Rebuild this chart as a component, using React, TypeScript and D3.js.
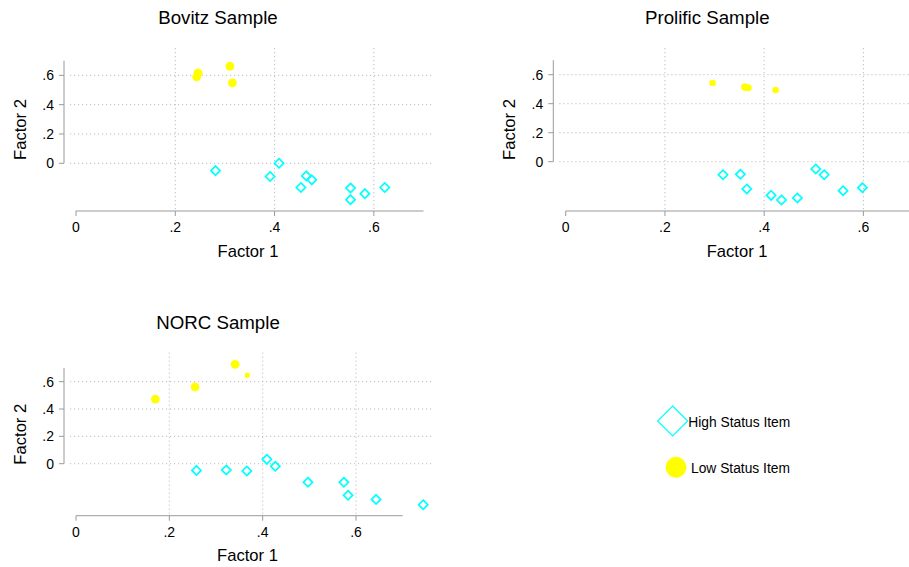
import React from "react";
import * as d3 from "d3";

// ---------- data ----------
const panelTitles = ["Bovitz Sample", "Prolific Sample", "NORC Sample"];
const xTicks = [0, 0.2, 0.4, 0.6];
const yTicks = [0, 0.2, 0.4, 0.6];
const tickLabels = ["0", ".2", ".4", ".6"];

const bovitzHighX = [0.281, 0.391, 0.409, 0.453, 0.464, 0.475, 0.553, 0.553, 0.582, 0.622];
const bovitzHighY = [-0.05, -0.09, 0.0, -0.165, -0.086, -0.113, -0.169, -0.248, -0.207, -0.165];
const bovitzLowX = [0.243, 0.246, 0.31, 0.315];
const bovitzLowY = [0.59, 0.617, 0.662, 0.549];
const bovitzLowW = [1, 1, 1, 1];

const prolificHighX = [0.317, 0.352, 0.365, 0.414, 0.435, 0.467, 0.504, 0.521, 0.559, 0.598];
const prolificHighY = [-0.09, -0.087, -0.188, -0.232, -0.264, -0.25, -0.05, -0.09, -0.2, -0.179];
const prolificLowX = [0.296, 0.361, 0.368, 0.423];
const prolificLowY = [0.543, 0.515, 0.51, 0.494];
const prolificLowW = [0.75, 0.85, 0.8, 0.75];

const norcHighX = [0.258, 0.322, 0.366, 0.409, 0.427, 0.497, 0.574, 0.583, 0.643, 0.744];
const norcHighY = [-0.049, -0.046, -0.053, 0.032, -0.019, -0.136, -0.136, -0.231, -0.261, -0.3];
const norcLowX = [0.17, 0.255, 0.341, 0.367];
const norcLowY = [0.473, 0.561, 0.727, 0.647];
const norcLowW = [1, 1, 1, 0.6];

const legendLabels = ["High Status Item", "Low Status Item"];

// ---------- layout ----------
const FONT = "'Liberation Sans', Arial, Helvetica, sans-serif";
const CYAN = "#00ffff";
const YELLOW = "#ffff00";
const AXIS = "#9a9a9a";
const GRID = "#bdbdbd";

type Layout = {
  left: number; right: number; top: number; bottom: number;
  x0: number; x07: number; y0: number; y07: number;
};

const layouts: Layout[] = [
  { left: 64, right: 433, top: 48, bottom: 211, x0: 76, x07: 423.5, y0: 163.3, y07: 60.7 },
  { left: 553.3, right: 922, top: 48, bottom: 211, x0: 565.7, x07: 913, y0: 161.7, y07: 60.2 },
  { left: 64, right: 432, top: 352.7, bottom: 515.7, x0: 76, x07: 402.7, y0: 463.7, y07: 368 },
];

const panelData = [
  { hx: bovitzHighX, hy: bovitzHighY, lx: bovitzLowX, ly: bovitzLowY, lw: bovitzLowW },
  { hx: prolificHighX, hy: prolificHighY, lx: prolificLowX, ly: prolificLowY, lw: prolificLowW },
  { hx: norcHighX, hy: norcHighY, lx: norcLowX, ly: norcLowY, lw: norcLowW },
];

function diamond(cx: number, cy: number, h: number) {
  return `M${cx},${cy - h}L${cx + h},${cy}L${cx},${cy + h}L${cx - h},${cy}Z`;
}

function Panel({ idx }: { idx: number }) {
  const L = layouts[idx];
  const D = panelData[idx];
  const x = d3.scaleLinear().domain([0, 0.7]).range([L.x0, L.x07]);
  const y = d3.scaleLinear().domain([0, 0.7]).range([L.y0, L.y07]);
  const r = d3.scaleLinear().domain([0, 1]).range([0, 4.4]);
  const gridLeft = L.left + 6;
  return (
    <g>
      {/* title */}
      <text x={L.left + 154} y={L.top - 24} textAnchor="middle" fontSize={18.7} fontFamily={FONT} fill="#000">
        {panelTitles[idx]}
      </text>
      {/* grid */}
      {yTicks.map((t) => (
        <line key={"gy" + t} x1={gridLeft} x2={L.right} y1={y(t)} y2={y(t)}
          stroke={GRID} strokeWidth={1} strokeDasharray="1.2 2.8" />
      ))}
      {xTicks.filter((t) => t > 0).map((t) => (
        <line key={"gx" + t} x1={x(t)} x2={x(t)} y1={L.top} y2={L.bottom}
          stroke={GRID} strokeWidth={1} strokeDasharray="1.2 2.8" />
      ))}
      {/* y axis */}
      <line x1={L.left} x2={L.left} y1={y(0.7)} y2={y(0)} stroke={AXIS} strokeWidth={1} />
      {yTicks.map((t, i) => (
        <g key={"yt" + t}>
          <line x1={L.left - 5} x2={L.left} y1={y(t)} y2={y(t)} stroke={AXIS} strokeWidth={1} />
          <text x={L.left - 10} y={y(t)} dy="0.36em" textAnchor="end" fontSize={14} fontFamily={FONT} fill="#000">
            {tickLabels[i]}
          </text>
        </g>
      ))}
      <text transform={`translate(${L.left - 44},${(L.top + L.bottom) / 2}) rotate(-90)`}
        textAnchor="middle" dy="0.36em" fontSize={16.6} fontFamily={FONT} fill="#000">Factor 2</text>
      {/* x axis */}
      <line x1={x(0)} x2={x(0.7)} y1={L.bottom} y2={L.bottom} stroke={AXIS} strokeWidth={1} />
      {xTicks.map((t, i) => (
        <g key={"xt" + t}>
          <line x1={x(t)} x2={x(t)} y1={L.bottom} y2={L.bottom + 5} stroke={AXIS} strokeWidth={1} />
          <text x={x(t)} y={L.bottom + 21} textAnchor="middle" fontSize={14} fontFamily={FONT} fill="#000">
            {tickLabels[i]}
          </text>
        </g>
      ))}
      <text x={(L.left + L.right) / 2 - 0.5} y={L.bottom + 45.5} textAnchor="middle" fontSize={16.6}
        fontFamily={FONT} fill="#000">Factor 1</text>
      {/* low status */}
      {D.lx.map((v, i) => (
        <circle key={"l" + i} cx={x(v)} cy={y(D.ly[i])} r={r(D.lw[i])} fill={YELLOW} />
      ))}
      {/* high status */}
      {D.hx.map((v, i) => (
        <path key={"h" + i} d={diamond(x(v), y(D.hy[i]), 4.6)} fill="none" stroke={CYAN} strokeWidth={1.7} />
      ))}
    </g>
  );
}

export default function App() {
  return (
    <svg width={909} height={567} style={{ position: "absolute", left: 0, top: 0, background: "#fff" }}>
      <rect x={0} y={0} width={909} height={567} fill="#fff" />
      {[0, 1, 2].map((i) => (
        <Panel key={i} idx={i} />
      ))}
      {/* legend */}
      <path d={diamond(672.7, 421, 15)} fill="none" stroke={CYAN} strokeWidth={1.2} />
      <text x={688.3} y={426.5} fontSize={13.8} fontFamily={FONT} fill="#000">{legendLabels[0]}</text>
      <circle cx={676} cy={467.3} r={10.5} fill={YELLOW} />
      <text x={691} y={472.5} fontSize={13.8} fontFamily={FONT} fill="#000">{legendLabels[1]}</text>
    </svg>
  );
}
